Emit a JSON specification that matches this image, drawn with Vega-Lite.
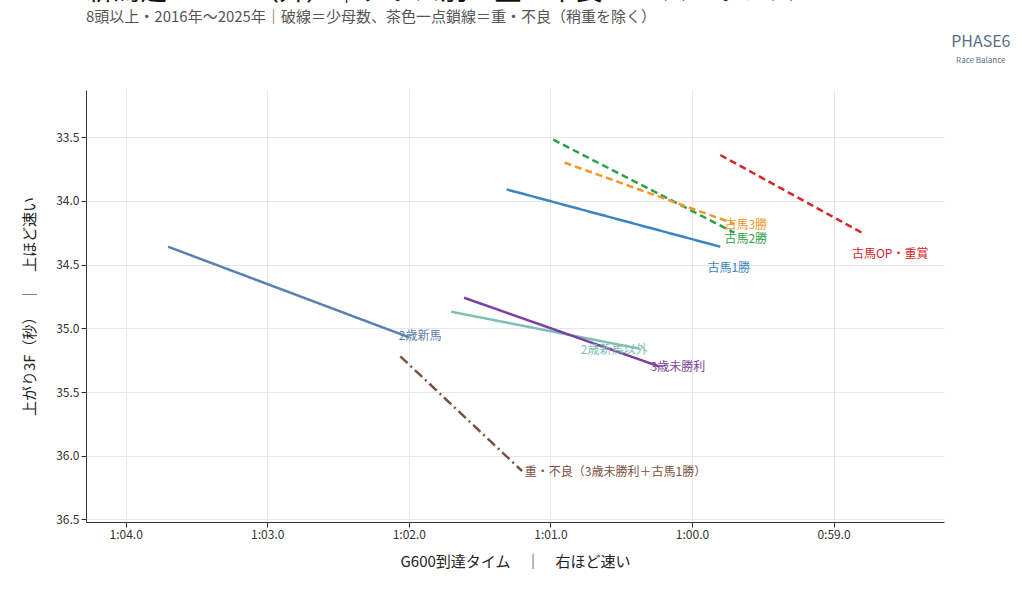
{
  "$schema": "https://vega.github.io/schema/vega-lite/v6.json",
  "width": 858,
  "height": 432,
  "autosize": "none",
  "padding": {"left": 86, "top": 90, "right": 78, "bottom": 67},
  "config": {
    "font": "Noto Sans CJK JP",
    "view": {"stroke": null},
    "axis": {"gridColor": "#e6e6e6", "domainColor": "#333", "tickColor": "#333", "labelColor": "#333", "labelFontSize": 12, "titleFontSize": 15, "titleFontWeight": "normal", "titleColor": "#222"}
  },
  "title": {
    "text": "新潟芝1600m（外）｜クラス別＋重・不良 レースバランス",
    "subtitle": "8頭以上・2016年〜2025年｜破線＝少母数、茶色一点鎖線＝重・不良（稍重を除く）",
    "anchor": "start", "frame": "group", "fontSize": 27, "fontWeight": "normal", "color": "#111",
    "subtitleFontSize": 15, "subtitleColor": "#555", "subtitlePadding": 4, "offset": 8
  },
  "datasets": {
    "lines": [
      {"cls": "2歳新馬", "t": 63.70, "f": 34.36},
      {"cls": "2歳新馬", "t": 62.00, "f": 35.07},
      {"cls": "2歳新馬以外", "t": 61.70, "f": 34.87},
      {"cls": "2歳新馬以外", "t": 60.37, "f": 35.16},
      {"cls": "3歳未勝利", "t": 61.61, "f": 34.76},
      {"cls": "3歳未勝利", "t": 60.23, "f": 35.30},
      {"cls": "古馬1勝", "t": 61.31, "f": 33.91},
      {"cls": "古馬1勝", "t": 59.80, "f": 34.36},
      {"cls": "古馬2勝", "t": 60.98, "f": 33.52},
      {"cls": "古馬2勝", "t": 59.70, "f": 34.25},
      {"cls": "古馬3勝", "t": 60.90, "f": 33.70},
      {"cls": "古馬3勝", "t": 59.70, "f": 34.18},
      {"cls": "古馬OP・重賞", "t": 59.80, "f": 33.64},
      {"cls": "古馬OP・重賞", "t": 58.80, "f": 34.25},
      {"cls": "重・不良", "t": 62.06, "f": 35.22},
      {"cls": "重・不良", "t": 61.20, "f": 36.12}
    ],
    "labels": [
      {"cls": "2歳新馬", "label": "2歳新馬", "t": 61.92, "f": 35.06},
      {"cls": "2歳新馬以外", "label": "2歳新馬以外", "t": 60.55, "f": 35.17},
      {"cls": "3歳未勝利", "label": "3歳未勝利", "t": 60.10, "f": 35.30},
      {"cls": "古馬1勝", "label": "古馬1勝", "t": 59.74, "f": 34.53},
      {"cls": "古馬2勝", "label": "古馬2勝", "t": 59.62, "f": 34.30},
      {"cls": "古馬3勝", "label": "古馬3勝", "t": 59.62, "f": 34.19},
      {"cls": "古馬OP・重賞", "label": "古馬OP・重賞", "t": 58.60, "f": 34.42},
      {"cls": "重・不良", "label": "重・不良（3歳未勝利＋古馬1勝）", "t": 60.54, "f": 36.13}
    ],
    "brand": [
      {"label": "PHASE6", "t": 57.96, "f": 32.75, "s": 16},
      {"label": "Race Balance", "t": 57.96, "f": 32.90, "s": 8}
    ]
  },
  "encoding": {
    "x": {"field": "t", "type": "quantitative",
      "scale": {"domain": [58.22, 64.28], "reverse": true, "nice": false, "zero": false},
      "axis": {"values": [59, 60, 61, 62, 63, 64], "title": "G600到達タイム　｜　右ほど速い", "titlePadding": 14,
        "labelExpr": "floor(datum.value/60) + ':' + (datum.value%60 < 10 ? '0' : '') + format(datum.value%60, '.1f')"}},
    "y": {"field": "f", "type": "quantitative",
      "scale": {"domain": [33.13, 36.52], "reverse": true, "nice": false, "zero": false},
      "axis": {"values": [33.5, 34, 34.5, 35, 35.5, 36, 36.5], "format": ".1f", "title": "上がり3F（秒）　｜　上ほど速い", "titlePadding": 18}},
    "color": {"field": "cls", "type": "nominal", "legend": null,
      "scale": {
        "domain": ["2歳新馬", "2歳新馬以外", "3歳未勝利", "古馬1勝", "古馬2勝", "古馬3勝", "古馬OP・重賞", "重・不良"],
        "range": ["#5b80b0", "#7fbfb8", "#7b3f9e", "#3a85c0", "#2ca048", "#f0962a", "#d62728", "#7a5040"]}}
  },
  "layer": [
    {
      "data": {"name": "lines"},
      "mark": {"type": "line", "strokeWidth": 2.5},
      "encoding": {
        "strokeDash": {"field": "cls", "type": "nominal", "legend": null,
          "scale": {
            "domain": ["2歳新馬", "2歳新馬以外", "3歳未勝利", "古馬1勝", "古馬2勝", "古馬3勝", "古馬OP・重賞", "重・不良"],
            "range": [[1, 0], [1, 0], [1, 0], [1, 0], [7, 4], [7, 4], [7, 4], [10, 4, 2, 4]]}}
      }
    },
    {
      "data": {"name": "labels"},
      "mark": {"type": "text", "fontSize": 12},
      "encoding": {"text": {"field": "label"}}
    },
    {
      "data": {"name": "brand"},
      "mark": {"type": "text", "align": "center"},
      "encoding": {"text": {"field": "label"}, "size": {"field": "s", "type": "quantitative", "scale": null}, "color": {"value": "#5a7080"}}
    }
  ]
}
